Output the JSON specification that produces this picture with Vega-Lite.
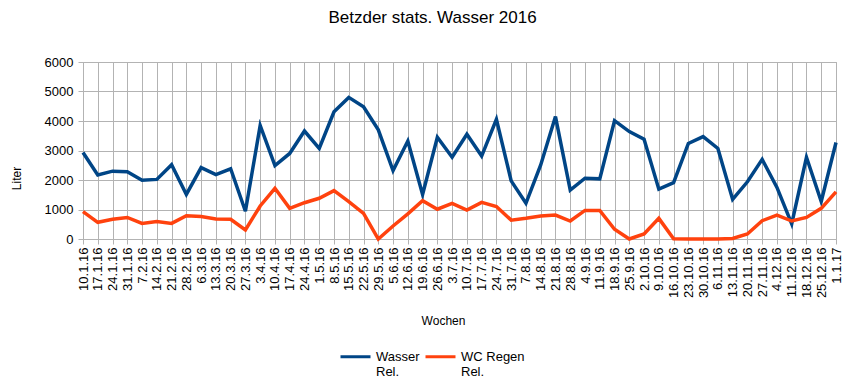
{
  "$schema": "https://vega.github.io/schema/vega-lite/v6.json",
  "autosize": {"type": "none"},
  "padding": {"left": 83, "top": 62, "right": 27, "bottom": 148},
  "width": 753,
  "height": 177,
  "background": "white",
  "config": {
    "font": "Liberation Sans",
    "view": {"stroke": "#b3b3b3", "strokeWidth": 1},
    "axis": {
      "gridColor": "#b3b3b3", "gridOpacity": 1, "gridWidth": 1,
      "domainColor": "#b3b3b3", "tickColor": "#b3b3b3", "tickSize": 5,
      "labelColor": "black", "labelFontSize": 13, "titleColor": "black",
      "titleFontSize": 12, "titleFontWeight": "normal", "labelFont": "Liberation Sans", "titleFont": "Liberation Sans"
    }
  },
  "title": {
    "text": "Betzder stats. Wasser 2016",
    "fontSize": 17, "fontWeight": "normal", "color": "black", "font": "Liberation Sans",
    "anchor": "middle", "frame": "group", "dx": -27, "offset": 16, "baseline": "alphabetic"
  },
  "data": {
    "values": [
      {"w": "10.1.16", "Wasser": 2930, "WC": 930},
      {"w": "17.1.16", "Wasser": 2170, "WC": 565},
      {"w": "24.1.16", "Wasser": 2300, "WC": 670},
      {"w": "31.1.16", "Wasser": 2280, "WC": 730},
      {"w": "7.2.16", "Wasser": 1990, "WC": 530},
      {"w": "14.2.16", "Wasser": 2020, "WC": 590},
      {"w": "21.2.16", "Wasser": 2520, "WC": 530},
      {"w": "28.2.16", "Wasser": 1510, "WC": 790},
      {"w": "6.3.16", "Wasser": 2420, "WC": 760},
      {"w": "13.3.16", "Wasser": 2180, "WC": 680},
      {"w": "20.3.16", "Wasser": 2380, "WC": 670},
      {"w": "27.3.16", "Wasser": 940, "WC": 305},
      {"w": "3.4.16", "Wasser": 3850, "WC": 1120},
      {"w": "10.4.16", "Wasser": 2490, "WC": 1720},
      {"w": "17.4.16", "Wasser": 2900, "WC": 1040},
      {"w": "24.4.16", "Wasser": 3660, "WC": 1230},
      {"w": "1.5.16", "Wasser": 3070, "WC": 1380},
      {"w": "8.5.16", "Wasser": 4310, "WC": 1640},
      {"w": "15.5.16", "Wasser": 4800, "WC": 1270},
      {"w": "22.5.16", "Wasser": 4480, "WC": 870},
      {"w": "29.5.16", "Wasser": 3700, "WC": 0},
      {"w": "5.6.16", "Wasser": 2320, "WC": 440},
      {"w": "12.6.16", "Wasser": 3320, "WC": 850},
      {"w": "19.6.16", "Wasser": 1510, "WC": 1300},
      {"w": "26.6.16", "Wasser": 3450, "WC": 1010},
      {"w": "3.7.16", "Wasser": 2770, "WC": 1210},
      {"w": "10.7.16", "Wasser": 3550, "WC": 980},
      {"w": "17.7.16", "Wasser": 2810, "WC": 1240},
      {"w": "24.7.16", "Wasser": 4060, "WC": 1100},
      {"w": "31.7.16", "Wasser": 1970, "WC": 640},
      {"w": "7.8.16", "Wasser": 1210, "WC": 700},
      {"w": "14.8.16", "Wasser": 2510, "WC": 780},
      {"w": "21.8.16", "Wasser": 4150, "WC": 810},
      {"w": "28.8.16", "Wasser": 1660, "WC": 610},
      {"w": "4.9.16", "Wasser": 2060, "WC": 970},
      {"w": "11.9.16", "Wasser": 2040, "WC": 970},
      {"w": "18.9.16", "Wasser": 4010, "WC": 330},
      {"w": "25.9.16", "Wasser": 3640, "WC": 0},
      {"w": "2.10.16", "Wasser": 3380, "WC": 170},
      {"w": "9.10.16", "Wasser": 1690, "WC": 700},
      {"w": "16.10.16", "Wasser": 1910, "WC": 10},
      {"w": "23.10.16", "Wasser": 3240, "WC": 0},
      {"w": "30.10.16", "Wasser": 3470, "WC": 0},
      {"w": "6.11.16", "Wasser": 3070, "WC": 0},
      {"w": "13.11.16", "Wasser": 1340, "WC": 20},
      {"w": "20.11.16", "Wasser": 1940, "WC": 170},
      {"w": "27.11.16", "Wasser": 2700, "WC": 620},
      {"w": "4.12.16", "Wasser": 1750, "WC": 810},
      {"w": "11.12.16", "Wasser": 510, "WC": 610},
      {"w": "18.12.16", "Wasser": 2770, "WC": 730},
      {"w": "25.12.16", "Wasser": 1270, "WC": 1040},
      {"w": "1.1.17", "Wasser": 3270, "WC": 1600}
    ]
  },
  "transform": [{"fold": ["Wasser", "WC"], "as": ["serie", "liter"]}],
  "mark": {"type": "line", "strokeWidth": 3.5},
  "encoding": {
    "x": {
      "field": "w", "type": "nominal", "sort": null,
      "scale": {"type": "point", "padding": 0},
      "axis": {
        "title": "Wochen", "labelAngle": -90, "labelPadding": 3, "grid": true,
        "titleX": 360, "titleY": 85, "titleAlign": "center", "titleBaseline": "alphabetic",
        "labelOverlap": false
      }
    },
    "y": {
      "field": "liter", "type": "quantitative",
      "scale": {"domain": [0, 6000], "nice": false},
      "axis": {
        "title": "Liter", "values": [0, 1000, 2000, 3000, 4000, 5000, 6000], "format": "d", "labelPadding": 5,
        "titleX": -67, "titleY": 116, "titleAlign": "center", "titleBaseline": "middle", "titleAngle": -90
      }
    },
    "color": {
      "field": "serie", "type": "nominal", "sort": ["Wasser", "WC"],
      "scale": {"domain": ["Wasser", "WC"], "range": ["#004586", "#ff420e"]},
      "legend": {
        "title": null, "orient": "none", "direction": "horizontal",
        "legendX": 256, "legendY": 278,
        "symbolType": "stroke", "symbolSize": 900, "symbolStrokeWidth": 3,
        "labelFontSize": 13, "labelColor": "black", "labelOffset": 4, "columnPadding": -1,
        "labelBaseline": "middle",
        "labelExpr": "datum.label == 'Wasser' ? ['Wasser', 'Rel.'] : ['WC Regen', 'Rel.']"
      }
    }
  }
}
